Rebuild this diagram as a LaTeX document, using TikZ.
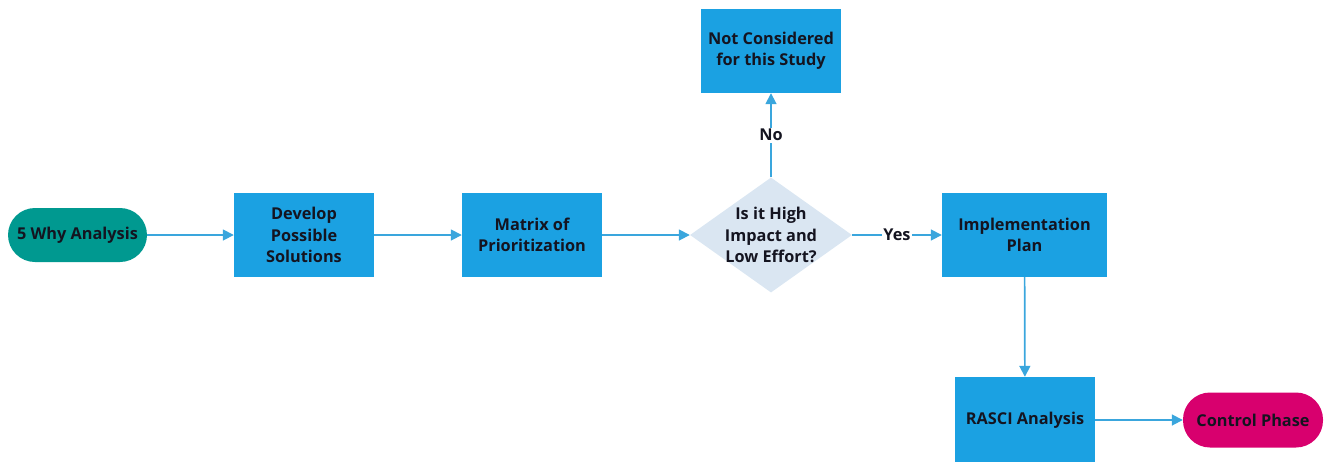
\documentclass[tikz,border=0pt]{standalone}
\usepackage{fontspec}
\setmainfont{Open Sans}
\usetikzlibrary{arrows.meta,shapes.geometric}
\definecolor{boxblue}{HTML}{1BA1E2}
\definecolor{linkblue}{HTML}{3AA6DD}
\definecolor{teal}{HTML}{009990}
\definecolor{magenta}{HTML}{D8006E}
\definecolor{decision}{HTML}{DAE6F2}
\definecolor{ink}{HTML}{141420}
\begin{document}
\begin{tikzpicture}[x=1pt,y=-1pt,
  every node/.style={font=\bfseries\fontsize{16.3}{21.5}\selectfont, text=ink, align=center, inner sep=0pt},
  stepbox/.style={rectangle, fill=boxblue, minimum width=140pt, minimum height=84pt},
  pill/.style={rectangle, rounded corners=27pt, minimum width=139pt, minimum height=54pt},
  choice/.style={diamond, fill=decision, minimum width=162pt, minimum height=115pt, aspect=1.41, inner sep=-3.5pt},
  link/.style={draw=linkblue, line width=1.7pt, -{Triangle[length=11pt,width=11pt]}},
  tag/.style={fill=white, inner sep=1.5pt}
]
\useasboundingbox (0,0) rectangle (1331,461);

% main row
\node[pill, fill=teal] (why) at (77.5,235) {5 Why Analysis};
\node[stepbox] (dev) at (304,235) {Develop\\Possible\\Solutions};
\node[stepbox] (mat) at (532,235) {Matrix of\\Prioritization};
\node[choice] (dec) at (771,235) {Is it High\\Impact and\\Low Effort?};
\node[stepbox, minimum width=165pt] (impl) at (1024.5,235) {Implementation\\Plan};

% branches
\node[stepbox] (nc) at (771,51) {Not Considered\\for this Study};
\node[stepbox, minimum height=86pt] (rasci) at (1025,420) {RASCI Analysis};
\node[pill, fill=magenta, minimum width=140pt, minimum height=55pt] (ctrl) at (1253,420) {Control Phase};

\draw[link] (why) -- (dev);
\draw[link] (dev) -- (mat);
\draw[link] (mat) -- (dec);
\draw[link] (dec.north) -- node[tag] {No} (nc);
\draw[link] (dec.east) -- node[tag] {Yes} (impl);
\draw[link] (impl) -- (rasci);
\draw[link] (rasci) -- (ctrl);
\end{tikzpicture}
\end{document}
